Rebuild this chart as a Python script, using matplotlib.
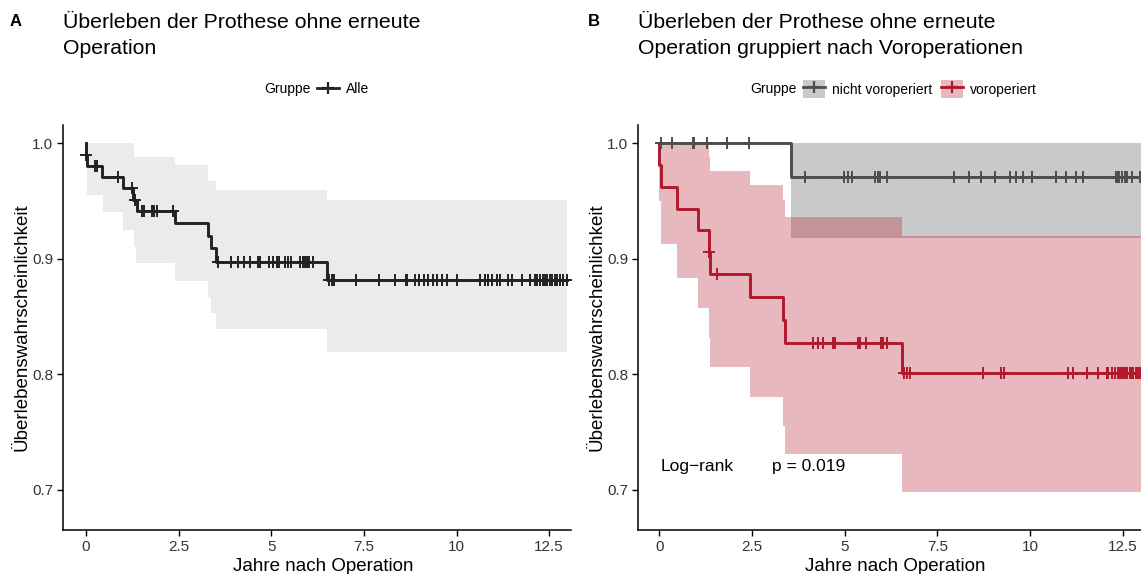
import matplotlib
matplotlib.use("Agg")
import matplotlib.pyplot as plt
from matplotlib.lines import Line2D
from matplotlib.patches import Patch
from matplotlib.legend_handler import HandlerTuple
import numpy as np

plt.rcParams['font.family'] = ['Liberation Sans', 'DejaVu Sans']

# ---- Panel A: alle Patienten ----
time_a = [0.0, 0.03, 0.44, 1.01, 1.28, 1.37, 2.40, 3.28, 3.38, 3.51, 6.50]
surv_a = [0.990, 0.980, 0.971, 0.961, 0.951, 0.941, 0.931, 0.920, 0.909, 0.897, 0.882]
end_a = 12.97
censor_a = [0.01, 0.24, 0.29, 0.87, 1.23, 1.31, 1.50, 1.57, 1.77, 1.84, 1.91, 2.36,
            3.55, 3.91, 4.11, 4.26, 4.43, 4.63, 4.70, 4.95, 5.06, 5.15, 5.21, 5.37,
            5.46, 5.52, 5.78, 5.85, 5.91, 5.96, 6.03, 6.12,
            6.57, 6.63, 6.70, 7.30, 7.91, 8.34, 8.64, 8.67, 8.88, 9.00, 9.12, 9.24,
            9.36, 9.48, 9.60, 9.73, 10.02, 10.63, 10.77, 10.86, 10.95, 11.08, 11.17,
            11.40, 11.49, 11.76, 11.98, 12.12, 12.18, 12.25, 12.33, 12.39, 12.45,
            12.52, 12.59, 12.66, 12.70, 12.79, 12.88, 12.97]
ci_time_a = [0.02, 0.45, 1.01, 1.30, 1.35, 2.40, 3.30, 3.37, 3.51, 6.50, 12.97]
ci_low_a = [0.955, 0.940, 0.925, 0.910, 0.896, 0.881, 0.866, 0.853, 0.839, 0.819, 0.819]
ci_high_a = [1.0, 1.0, 1.0, 0.988, 0.988, 0.981, 0.967, 0.967, 0.959, 0.951, 0.951]

# ---- Panel B: nicht voroperiert ----
time_g = [3.56]
surv_g = [0.971]
end_g = 13.0
censor_g = [0.05, 0.34, 0.91, 0.94, 1.30, 1.82, 2.41,
            3.94, 4.97, 5.10, 5.21, 5.82, 5.91, 5.96, 6.14, 7.95, 8.36, 8.67,
            9.06, 9.46, 9.61, 9.80, 10.05, 10.70, 10.96, 11.23, 11.42, 12.32,
            12.36, 12.41, 12.47, 12.56, 12.61, 12.76, 12.95]
ci_time_g = [3.56, 13.0]
ci_low_g = [0.918, 0.918]
ci_high_g = [1.0, 1.0]

# ---- Panel B: voroperiert ----
time_r = [0.0, 0.05, 0.49, 1.06, 1.35, 1.37, 2.45, 3.33, 3.38, 6.54]
surv_r = [0.981, 0.962, 0.943, 0.925, 0.906, 0.887, 0.867, 0.847, 0.827, 0.801]
end_r = 13.0
censor_r = [1.355, 1.57, 4.16, 4.29, 4.43, 4.68, 4.73, 5.37, 5.42, 5.57, 5.98, 6.03,
            6.14, 6.60, 6.68, 6.75, 8.73, 9.22, 9.31, 11.03, 11.17, 11.53, 11.84,
            12.07, 12.11, 12.20, 12.29, 12.36, 12.43, 12.47, 12.51, 12.56, 12.61,
            12.68, 12.74, 12.78, 12.85, 12.91, 12.97]
ci_time_r = [0.0, 0.05, 0.49, 1.06, 1.35, 1.37, 2.45, 3.33, 3.38, 6.54, 13.0]
ci_low_r = [0.950, 0.913, 0.883, 0.857, 0.831, 0.806, 0.780, 0.755, 0.731, 0.698, 0.698]
ci_high_r = [1.0, 1.0, 1.0, 1.0, 0.988, 0.976, 0.964, 0.951, 0.936, 0.920, 0.920]

x_ticks = [0, 2.5, 5, 7.5, 10, 12.5]
x_ticklabels = ["0", "2.5", "5", "7.5", "10", "12.5"]
y_ticks = [0.7, 0.8, 0.9, 1.0]
y_ticklabels = ["0.7", "0.8", "0.9", "1.0"]

col_all = '#222222'
col_band_all = '#EBEBEB'
col_grey = '#4D4D4D'
col_red = '#B2182B'


def surv_at(times, surv, t):
    idx = np.searchsorted(times, t, side='right') - 1
    return np.where(idx < 0, 1.0, np.asarray(surv)[np.clip(idx, 0, None)])


def draw_km(ax, times, surv, end, censor, color):
    x = [0.0] + list(times) + [end]
    y = [1.0] + list(surv) + [surv[-1]]
    ax.step(x, y, where='post', color=color, lw=2.1, zorder=3)
    ct = np.array(censor)
    ax.plot(ct, surv_at(times, surv, ct), ls='none', marker='+', ms=8,
            mew=1.4, color=color, zorder=4)


def style_axes(ax, xlim):
    ax.set_xlim(*xlim)
    ax.set_ylim(0.6654, 1.0156)
    ax.set_xticks(x_ticks)
    ax.set_xticklabels(x_ticklabels)
    ax.set_yticks(y_ticks)
    ax.set_yticklabels(y_ticklabels)
    for s in ['top', 'right']:
        ax.spines[s].set_visible(False)
    for s in ['left', 'bottom']:
        ax.spines[s].set_linewidth(1.1)
        ax.spines[s].set_color('black')
    ax.tick_params(length=4, width=1, labelsize=11, color='black',
                   labelcolor='#333333', pad=3)
    ax.set_xlabel("Jahre nach Operation", fontsize=13.5, labelpad=3)
    ax.xaxis.label.set_x(0.512)
    ax.set_ylabel("Überlebenswahrscheinlichkeit", fontsize=13.5, labelpad=1)


fig = plt.figure(figsize=(11.41, 5.74), dpi=100)
W, H = 1141, 574

axA = fig.add_axes([63 / W, 44 / H, 508 / W, 405 / H])
axB = fig.add_axes([638 / W, 44 / H, 503 / W, 405 / H])

# Panel A
axA.fill_between(ci_time_a, ci_low_a, ci_high_a, step='post', color=col_band_all,
                 lw=0, zorder=1)
draw_km(axA, time_a, surv_a, end_a, censor_a, col_all)
style_axes(axA, (-0.62, 13.09))

# Panel B
axB.fill_between(ci_time_g, ci_low_g, ci_high_g, step='post', color=col_grey,
                 alpha=0.3, lw=0, zorder=1)
axB.fill_between(ci_time_r, ci_low_r, ci_high_r, step='post', color=col_red,
                 alpha=0.3, lw=0, zorder=1)
draw_km(axB, time_g, surv_g, end_g, censor_g, col_grey)
draw_km(axB, time_r, surv_r, end_r, censor_r, col_red)
style_axes(axB, (-0.57, 12.99))
axB.text(0.05, 0.7205, "Log\u2212rank", fontsize=12.5, va='center', ha='left')
axB.text(3.05, 0.7205, "p = 0.019", fontsize=12.5, va='center', ha='left')

# Titles
fig.text(10 / W, 1 - 22 / H, "A", fontsize=12, fontweight='bold', va='center')
fig.text(588 / W, 1 - 22 / H, "B", fontsize=12, fontweight='bold', va='center')
fig.text(63 / W, 1 - 13 / H, "Überleben der Prothese ohne erneute\nOperation",
         fontsize=15.3, va='top', linespacing=1.45)
fig.text(638 / W, 1 - 13 / H,
         "Überleben der Prothese ohne erneute\nOperation gruppiert nach Voroperationen",
         fontsize=15.3, va='top', linespacing=1.45)

# Legends
fig.text(264 / W, 1 - 89 / H, "Gruppe", fontsize=10, va='center')
hA = [Line2D([], [], color=col_all, lw=2, marker='+', ms=9, mew=1.6)]
fig.legend(hA, ["Alle"], loc='center left', bbox_to_anchor=(317 / W, 1 - 89 / H),
           frameon=False, fontsize=10, handlelength=1.6, handletextpad=0.5,
           borderpad=0, borderaxespad=0)

fig.text(750 / W, 1 - 89 / H, "Gruppe", fontsize=10, va='center')
hB = [(Patch(facecolor=col_grey, alpha=0.3, edgecolor='none'),
       Line2D([], [], color=col_grey, lw=2, marker='+', ms=9, mew=1.6)),
      (Patch(facecolor=col_red, alpha=0.3, edgecolor='none'),
       Line2D([], [], color=col_red, lw=2, marker='+', ms=9, mew=1.6))]
fig.legend(hB, ["nicht voroperiert", "voroperiert"], loc='center left',
           bbox_to_anchor=(803 / W, 1 - 89 / H), ncol=2, frameon=False,
           fontsize=10, handlelength=1.6, handleheight=1.6, handletextpad=0.5,
           columnspacing=0.6, borderpad=0, borderaxespad=0,
           handler_map={tuple: HandlerTuple(ndivide=1, pad=0)})

fig.savefig("out.png", dpi=100)
